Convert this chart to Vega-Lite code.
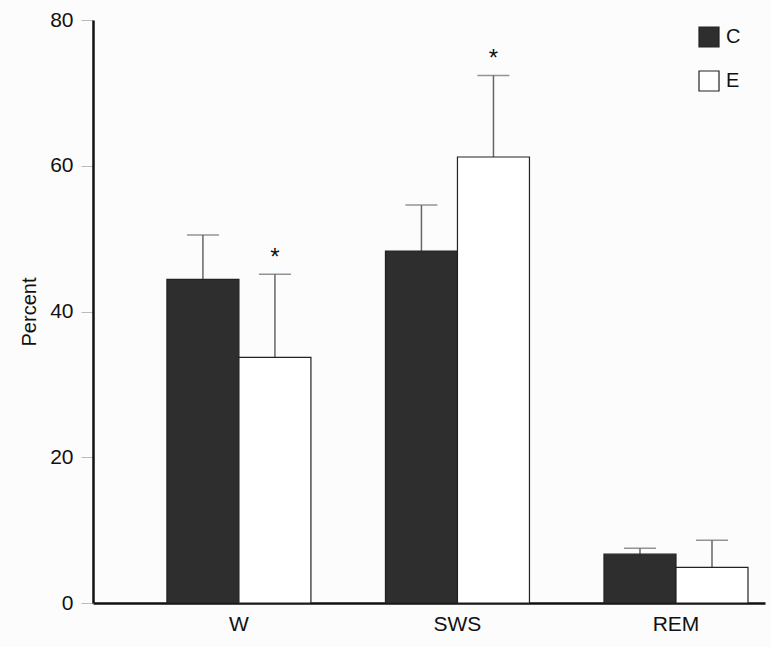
{
  "$schema": "https://vega.github.io/schema/vega-lite/v6.json",
  "width": 672,
  "height": 583,
  "autosize": {"type": "none"},
  "padding": {"left": 93, "top": 20, "right": 6, "bottom": 44},
  "background": "#fcfcfc",
  "config": {
    "view": {"stroke": null},
    "font": "Liberation Sans",
    "axis": {"labelFont": "Liberation Sans", "titleFont": "Liberation Sans", "labelColor": "#111", "titleColor": "#111", "grid": false}
  },
  "data": {
    "values": [
      {"stage": "W", "group": "C", "value": 44.4, "err": 50.5, "sig": ""},
      {"stage": "W", "group": "E", "value": 33.7, "err": 45.1, "sig": "*"},
      {"stage": "SWS", "group": "C", "value": 48.3, "err": 54.6, "sig": ""},
      {"stage": "SWS", "group": "E", "value": 61.2, "err": 72.4, "sig": "*"},
      {"stage": "REM", "group": "C", "value": 6.7, "err": 7.5, "sig": ""},
      {"stage": "REM", "group": "E", "value": 4.9, "err": 8.6, "sig": ""}
    ]
  },
  "encoding": {
    "x": {
      "field": "stage", "type": "nominal", "sort": ["W", "SWS", "REM"],
      "scale": {"paddingInner": 0.341, "paddingOuter": 0.208, "align": 0.813},
      "axis": {"title": null, "labelAngle": 0, "labelFontSize": 21, "ticks": false, "domainColor": "#111", "domainWidth": 2.5, "labelPadding": 10}
    },
    "xOffset": {"field": "group", "type": "nominal", "sort": ["C", "E"], "scale": {"paddingInner": 0}}
  },
  "layer": [
    {
      "mark": {"type": "rule", "color": "#666", "strokeWidth": 1.5},
      "encoding": {
        "y": {"field": "value", "type": "quantitative"},
        "y2": {"field": "err"}
      }
    },
    {
      "mark": {"type": "tick", "color": "#666", "thickness": 1.5, "size": 32},
      "encoding": {
        "y": {"field": "err", "type": "quantitative"}
      }
    },
    {
      "mark": {"type": "bar", "stroke": "#222", "strokeWidth": 1.2},
      "encoding": {
        "y": {
          "field": "value", "type": "quantitative",
          "scale": {"domain": [0, 80]},
          "axis": {"title": "Percent", "titleFontSize": 20, "titleFontWeight": "normal", "titlePadding": 10, "labelFontSize": 21, "values": [0, 20, 40, 60, 80], "tickColor": "#bbb", "tickSize": 12, "labelPadding": 8, "domainColor": "#111", "domainWidth": 2.5}
        },
        "fill": {
          "field": "group", "type": "nominal",
          "scale": {"domain": ["C", "E"], "range": ["#2e2e2e", "#ffffff"]},
          "legend": {"title": null, "orient": "none", "legendX": 605, "legendY": 6, "symbolType": "square", "symbolSize": 400, "symbolStrokeColor": "#222", "symbolStrokeWidth": 1.2, "labelFontSize": 20, "labelColor": "#111", "rowPadding": 18, "labelOffset": 6}
        }
      }
    },
    {
      "mark": {"type": "text", "fontSize": 24, "dy": -4, "baseline": "bottom", "color": "#111"},
      "encoding": {
        "y": {"field": "err", "type": "quantitative"},
        "text": {"field": "sig"}
      }
    }
  ]
}
